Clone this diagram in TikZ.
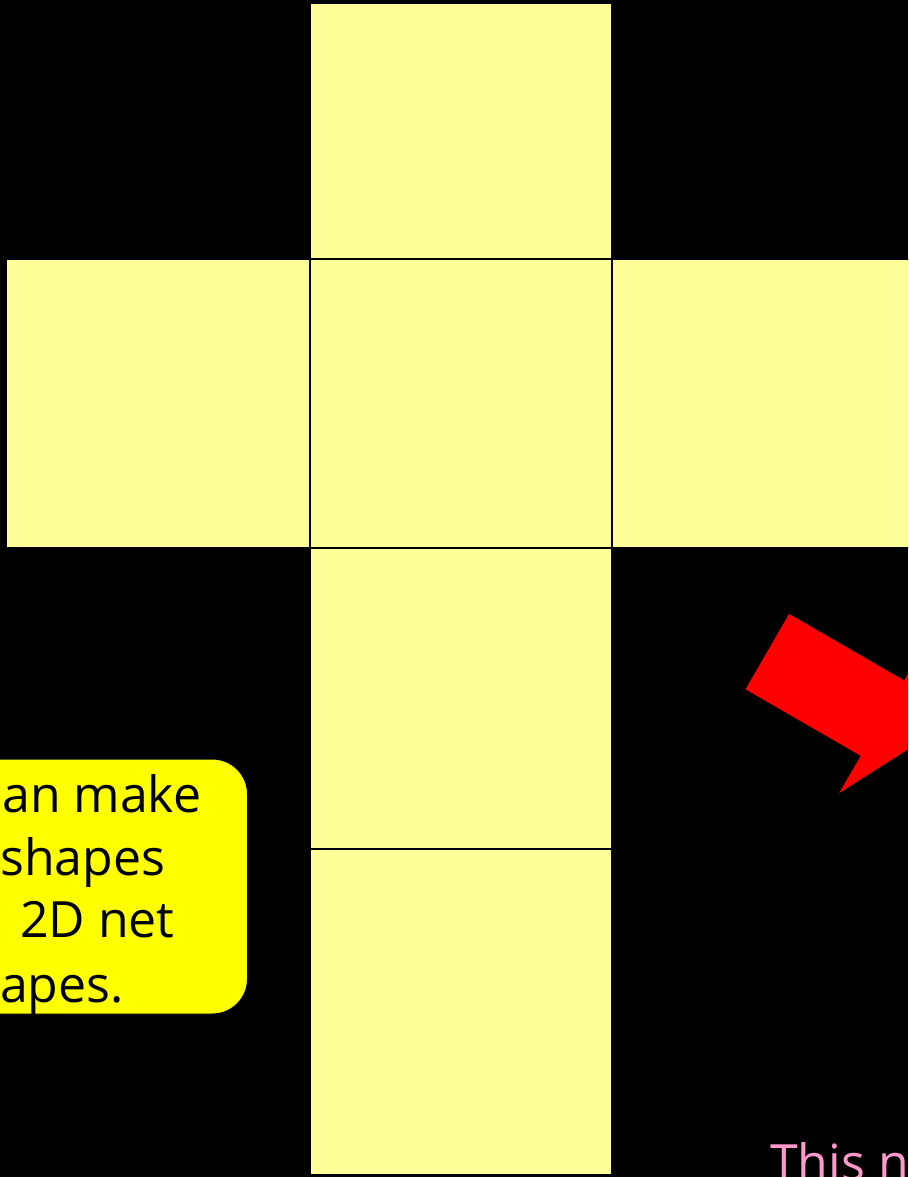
\documentclass[tikz,border=0pt]{standalone}
\usepackage{fontspec}
\setmainfont{Open Sans}
\usepackage{xcolor}
\usepackage{tikz}
\usetikzlibrary{positioning}

\definecolor{netface}{HTML}{FFFF99}
\definecolor{notebox}{HTML}{FFFF00}
\definecolor{notepink}{HTML}{FF99CC}

\begin{document}
\begin{tikzpicture}[
  x=1pt, y=-1pt,
  face/.style={draw=black, line width=1.3pt, fill=netface, inner sep=0pt, outer sep=0pt,
               minimum width=#1},
  face/.default=302pt,
  note/.style={font=\fontsize{50}{63}\selectfont, inner sep=0pt},
  node distance=0pt
]
  \useasboundingbox (0,0) rectangle (908,1177);
  \clip (0,0) rectangle (908,1177);
  \fill[black] (0,0) rectangle (908,1177);

  % the cube net
  \node[face, minimum height=289pt] (mid) at (461,403.5) {};
  \node[face, minimum height=256pt, above=of mid] (top) {};
  \node[face=304pt, minimum height=289pt, left=of mid] (left) {};
  \node[face, minimum height=289pt, right=of mid] (right) {};
  \node[face, minimum height=301pt, below=of mid] (low) {};
  \node[face, minimum height=326pt, below=of low] (base) {};

  % callout
  \node[draw=black, line width=1pt, fill=notebox, rounded corners=35pt,
        minimum width=400pt, minimum height=255pt, anchor=east] (callout) at (248,886.5) {};
  \node[note, anchor=base west] (line1) at (2,812) {an make};
  \node[note, anchor=base west] (line2) at (0,875) {shapes};
  \node[note, anchor=base west] (line3) at (20,937) {2D net};
  \node[note, anchor=base west] (line4) at (0,1002) {apes.};

  % arrow
  \fill[red] (789,614) -- (904.2,680.5) -- (925.7,643.3) -- (921.4,740.7)
    -- (839.2,793) -- (860.7,755.8) -- (745.5,689.3) -- cycle;

  \node[note, text=notepink, anchor=base west] (caption) at (770,1180) {This n};
\end{tikzpicture}
\end{document}
